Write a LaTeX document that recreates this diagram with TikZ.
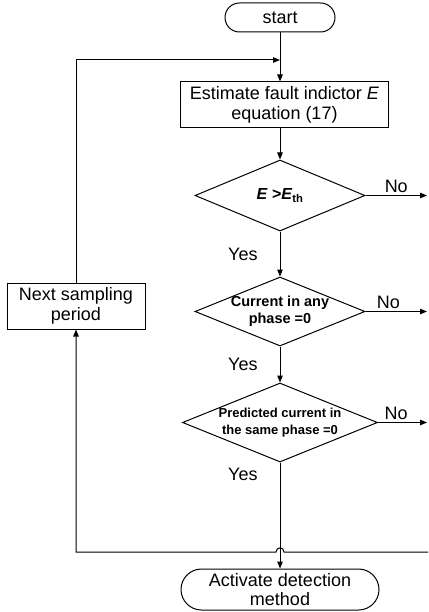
\documentclass[tikz,border=0pt]{standalone}
\usepackage{fontspec}
\setmainfont{Liberation Sans}
\usetikzlibrary{positioning,arrows.meta,shapes.geometric,shapes.misc}
\newcommand{\fsnorm}{\fontsize{18pt}{19.5pt}\selectfont}
\tikzset{
  >={Triangle[length=7pt,width=5.5pt]},
  term/.style={rounded rectangle,draw,inner sep=0pt,align=center,font=\fsnorm},
  proc/.style={rectangle,draw,inner sep=0pt,align=center,font=\fsnorm},
  dec/.style={diamond,draw,inner sep=0pt},
  dtxt/.style={align=center,inner sep=0pt,font=\fontsize{#1pt}{17pt}\selectfont\bfseries},
  lb/.style={font=\fsnorm,inner sep=2pt},
  every path/.style={line width=1pt}
}

\begin{document}
\begin{tikzpicture}[x=1pt,y=-1pt]
  \useasboundingbox (0,0) rectangle (428,612);
  % ---- main column ----
  \node[term,minimum width=110pt,minimum height=29pt] (start) at (280,17.5) {start};
  \node[proc,minimum width=208pt,minimum height=46pt] (est) at (284.5,105)
    {Estimate fault indictor \textit{E}\\equation (17)};
  \node[dec,minimum width=170pt,minimum height=71pt,
    label={[dtxt=16]center:{\textit{E} >\textit{E}\textsubscript{th}}}] (d1) at (280,195.5) {};
  \node[dec,minimum width=170pt,minimum height=69pt,
    label={[dtxt=14.5]center:{Current in any\\phase =0}}] (d2) at (280,311.5) {};
  \node[dec,minimum width=195pt,minimum height=79pt,
    label={[dtxt=13]center:{Predicted current in\\the same phase =0}}] (d3) at (280,422.5) {};
  \node[term,minimum width=198pt,minimum height=41pt] (fin) at (280,589.5)
    {Activate detection\\method};
  \node[proc,minimum width=138pt,minimum height=46pt] (nsp) at (76,306)
    {Next sampling\\period};

  \coordinate (j1) at (280,60);
  \coordinate (r1) at (427,195.5);
  \coordinate (r2) at (427,311.5);
  \coordinate (r3) at (427,422.5);
  \coordinate (br) at (428,552);
  \coordinate (bl) at (76,552);
  \coordinate (h1) at (276,552);
  \coordinate (h2) at (284,552);

  % ---- connectors ----
  \draw[->] (start) -- (start |- est.north);
  \draw[->] (start |- est.south) -- (d1);
  \draw[->] (d1) -- node[lb,left=20pt]{Yes} (d2);
  \draw[->] (d2) -- node[lb,left=20pt]{Yes} (d3);
  \draw[->] (d3) -- node[lb,left=20pt,pos=.11]{Yes} (fin);
  \draw[->] (d1) -- node[lb,above,pos=.5]{No} (r1);
  \draw[->] (d2) -- node[lb,above,pos=.37]{No} (r2);
  \draw[->] (d3) -- node[lb,above,pos=.37]{No} (r3);

  % ---- loop back ----
  \draw[->] (br) -- (h2) .. controls +(0,-5.5) and +(0,-5.5) .. (h1) -- (bl) -- (nsp);
  \draw[->] (nsp) |- (j1);
\end{tikzpicture}
\end{document}
